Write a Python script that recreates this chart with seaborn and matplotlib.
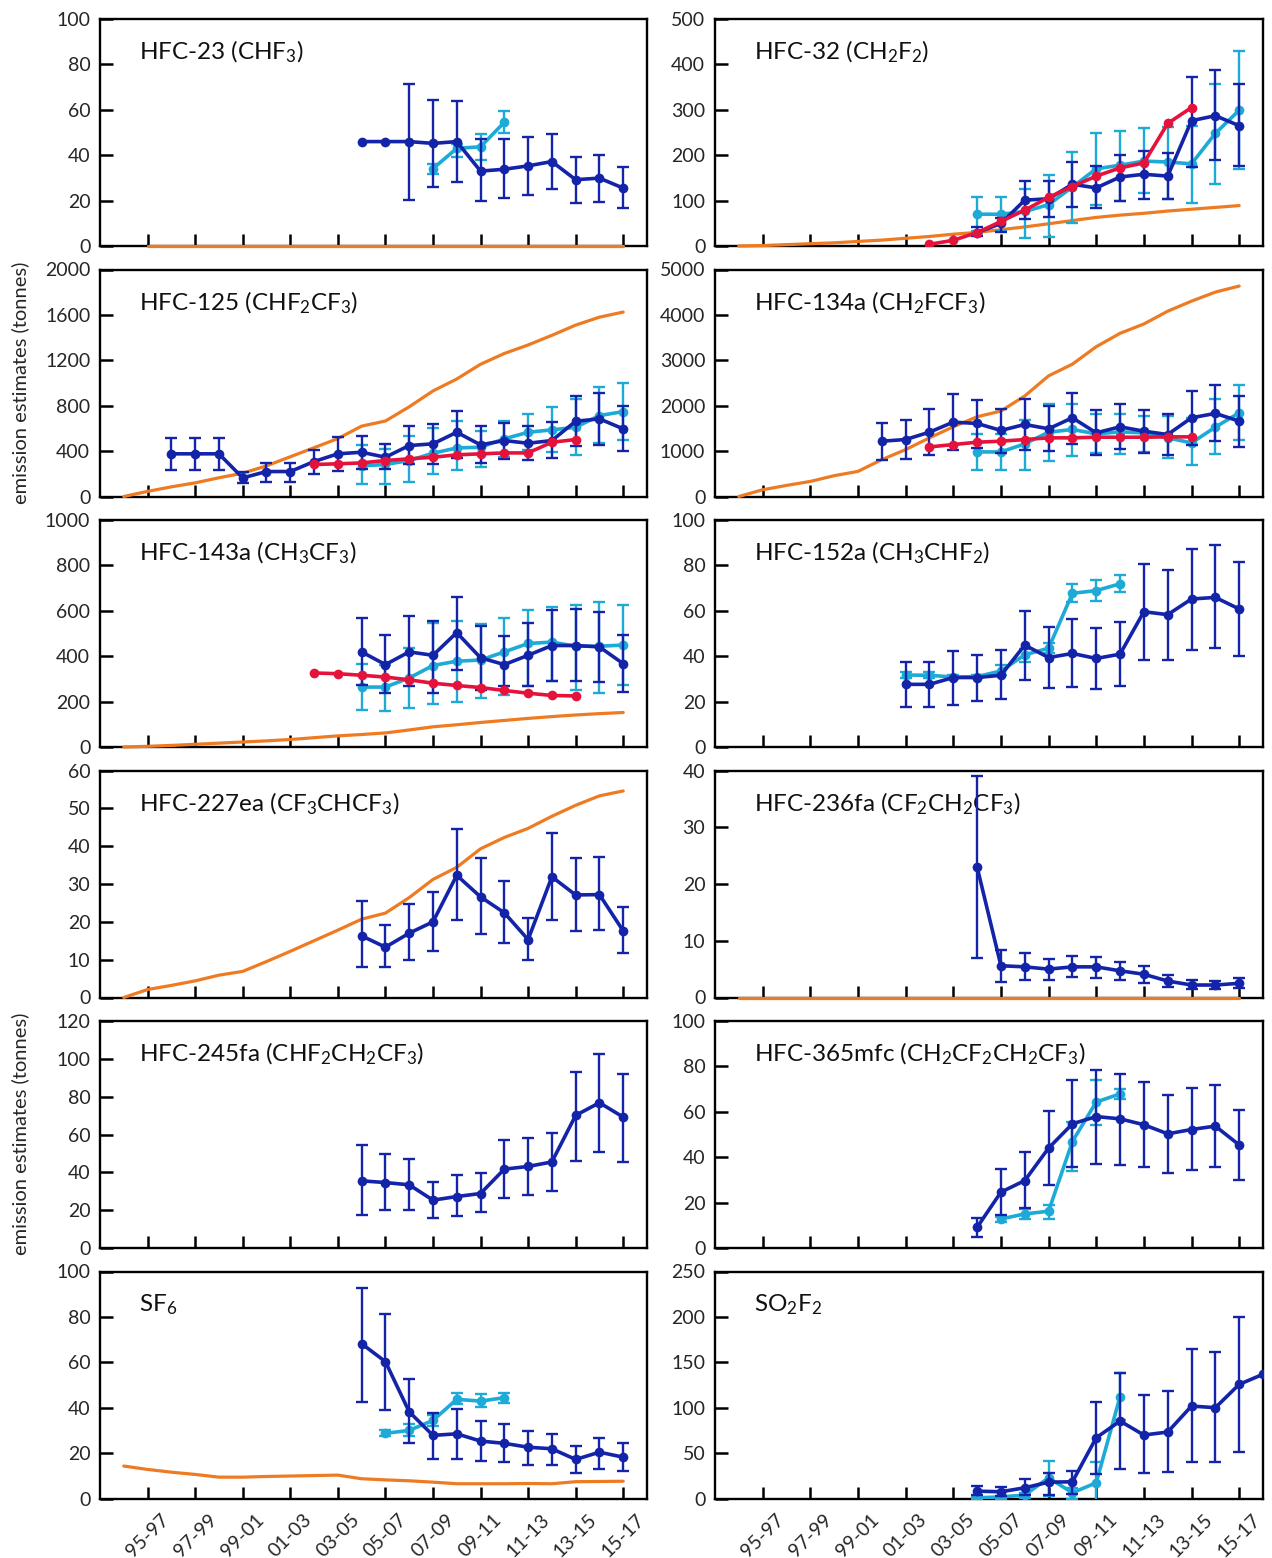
import numpy as np
import pandas as pd
import matplotlib
matplotlib.use("Agg")
import matplotlib.pyplot as plt
import seaborn as sns

sns.set_style("white")
plt.rcParams['font.family'] = ['Lato', 'DejaVu Sans']
plt.rcParams['mathtext.fontset'] = 'custom'
plt.rcParams['mathtext.rm'] = 'Lato'
plt.rcParams['mathtext.it'] = 'Lato:italic'
plt.rcParams['mathtext.bf'] = 'Lato:bold'

# ---------------- data ----------------
PERIODS = ["94-96", "95-97", "96-98", "97-99", "98-00", "99-01", "00-02", "01-03",
           "02-04", "03-05", "04-06", "05-07", "06-08", "07-09", "08-10", "09-11",
           "10-12", "11-13", "12-14", "13-15", "14-16", "15-17", "16-18"]
TICK_LABELS = ["95-97", "97-99", "99-01", "01-03", "03-05", "05-07",
               "07-09", "09-11", "11-13", "13-15", "15-17"]

NAN = np.nan

# HFC-23
hfc23_orange_start = "95-97"
hfc23_orange = [0, 0, 0, 0, 0, 0, 0, 0, 0, 0, 0, 0, 0, 0, 0, 0, 0, 0, 0, 0, 0]
hfc23_blue_start = "04-06"
hfc23_blue = [46, 46, 46, 45.2, 46, 33, 33.8, 35.3, 37.2, 29.2, 29.9, 25.5]
hfc23_blue_lo = [NAN, NAN, 20.3, 26.2, 28.1, 20, 21.2, 22.4, 24.9, 19.1, 19.6, 16.7]
hfc23_blue_hi = [NAN, NAN, 71.4, 64.4, 63.7, 47, 47.0, 48.1, 49.3, 39.4, 40.1, 34.6]
hfc23_cyan_start = "07-09"
hfc23_cyan = [34.1, 43.0, 43.7, 54.5]
hfc23_cyan_lo = [31.6, 39, 38.1, 49.6]
hfc23_cyan_hi = [36.3, 45, 49.2, 59.6]

# HFC-32
hfc32_orange_start = "94-96"
hfc32_orange = [0, 1, 3, 5, 7, 10, 13, 17, 21, 26, 30, 36, 42, 49, 56, 63, 68, 72, 77, 81, 85, 89]
hfc32_red_start = "02-04"
hfc32_red = [3.7, 12.6, 29.6, 54, 79, 107, 131, 154, 172, 183, 270, 305]
hfc32_blue_start = "04-06"
hfc32_blue = [29.6, 49.6, 101, 104, 136, 128, 152, 158, 154, 276, 287, 265]
hfc32_blue_lo = [22, 30, 59, 63, 87, 84, 100, 104, 103, 174, 190, 176]
hfc32_blue_hi = [42, 62, 144, 144, 185, 176, 201, 210, 205, 373, 387, 356]
hfc32_cyan_start = "04-06"
hfc32_cyan = [70, 70, 76, 91, 130, 170, 178, 187, 185, 181, 248, 299]
hfc32_cyan_lo = [33, 33, 17, 20, 50, 91, 100, 116, 104, 94, 137, 170]
hfc32_cyan_hi = [107, 107, 126, 157, 207, 250, 253, 259, 263, 264, 356, 430]

# HFC-125
hfc125_orange_start = "94-96"
hfc125_orange = [0, 45, 85, 120, 165, 205, 270, 350, 430, 510, 620, 665, 790, 930, 1035, 1165,
                 1260, 1335, 1420, 1510, 1580, 1625]
hfc125_blue_start = "96-98"
hfc125_blue = [376, 376, 376, 164, 220, 220, 308, 376, 390, 346, 449, 464, 566, 455, 493, 469,
               493, 663, 684, 596]
hfc125_blue_lo = [234, 234, 234, 120, 132, 132, 200, 229, 244, 244, 284, 288, 343, 298, 334, 319,
                  340, 443, 458, 402]
hfc125_blue_hi = [516, 516, 516, 216, 298, 298, 408, 526, 532, 460, 622, 638, 755, 622, 650, 622,
                  660, 885, 908, 800]
hfc125_red_start = "02-04"
hfc125_red = [282, 288, 296, 317, 332, 346, 367, 376, 384, 384, 478, 502]
hfc125_cyan_start = "04-06"
hfc125_cyan = [270, 282, 317, 381, 428, 434, 508, 566, 587, 610, 713, 748]
hfc125_cyan_lo = [112, 106, 132, 194, 235, 260, 349, 408, 393, 363, 472, 496]
hfc125_cyan_hi = [452, 422, 531, 605, 667, 578, 667, 731, 790, 855, 963, 1004]

# HFC-134a
hfc134a_orange_start = "94-96"
hfc134a_orange = [0, 148, 244, 332, 458, 553, 812, 1033, 1292, 1535, 1756, 1882, 2214, 2657, 2915,
                  3299, 3594, 3800, 4081, 4303, 4502, 4635]
hfc134a_blue_start = "00-02"
hfc134a_blue = [1218, 1255, 1417, 1638, 1609, 1454, 1587, 1491, 1734, 1402, 1535, 1439, 1365,
                1734, 1830, 1661]
hfc134a_blue_lo = [797, 834, 923, 1033, 1070, 959, 1033, 996, 1159, 923, 1055, 959, 923, 1144,
                   1218, 1100]
hfc134a_blue_hi = [1609, 1683, 1919, 2251, 2118, 1934, 2155, 1993, 2288, 1897, 2030, 1904, 1808,
                   2325, 2450, 2214]
hfc134a_red_start = "02-04"
hfc134a_red = [1092, 1144, 1196, 1218, 1255, 1292, 1292, 1306, 1306, 1306, 1314, 1314]
hfc134a_cyan_start = "04-06"
hfc134a_cyan = [982, 982, 1159, 1417, 1476, 1380, 1424, 1402, 1292, 1181, 1528, 1845]
hfc134a_cyan_lo = [590, 590, 590, 775, 886, 959, 937, 982, 849, 686, 937, 1240]
hfc134a_cyan_hi = [1380, 1380, 1675, 2044, 2044, 1808, 1808, 1771, 1771, 1734, 2140, 2458]

# HFC-143a
hfc143a_orange_start = "94-96"
hfc143a_orange = [0, 3, 7, 12, 17, 22, 27, 33, 41, 49, 55, 62, 75, 89, 98, 108, 117, 126, 134,
                  141, 147, 152]
hfc143a_red_start = "02-04"
hfc143a_red = [326, 323, 316, 308, 296, 281, 271, 262, 249, 237, 227, 225]
hfc143a_blue_start = "04-06"
hfc143a_blue = [419, 363, 419, 404, 504, 393, 363, 404, 447, 447, 441, 367]
hfc143a_blue_lo = [274, 237, 267, 237, 341, 252, 267, 267, 292, 292, 286, 241]
hfc143a_blue_hi = [567, 493, 578, 553, 662, 533, 489, 548, 603, 607, 593, 493]
hfc143a_cyan_start = "04-06"
hfc143a_cyan = [264, 264, 304, 359, 378, 383, 419, 456, 462, 444, 444, 449]
hfc143a_cyan_lo = [163, 160, 170, 188, 197, 218, 230, 267, 292, 252, 237, 271]
hfc143a_cyan_hi = [366, 363, 434, 548, 556, 544, 567, 603, 615, 625, 637, 627]

# HFC-152a
hfc152a_blue_start = "01-03"
hfc152a_blue = [27.6, 27.6, 30.6, 30.6, 31.6, 44.9, 39.4, 41.2, 39.0, 40.9, 59.6, 58.3, 65.2,
                65.9, 60.8]
hfc152a_blue_lo = [17.7, 17.7, 18.7, 20.2, 21.0, 29.4, 25.8, 26.6, 25.4, 26.9, 38.2, 38.2, 42.7,
                   43.8, 40.1]
hfc152a_blue_hi = [37.5, 37.5, 42.1, 40.6, 42.7, 60.1, 53.0, 56.4, 52.4, 55.2, 80.7, 78.1, 87.4,
                   89.2, 81.5]
hfc152a_cyan_start = "01-03"
hfc152a_cyan = [31.7, 31.6, 30.8, 31.0, 33.5, 40.6, 43.5, 67.7, 68.9, 71.9]
hfc152a_cyan_lo = [30.5, 30.2, 29.8, 30.2, 31.5, 37.5, 41.6, 63.8, 64.2, 68.2]
hfc152a_cyan_hi = [33.0, 33.0, 31.6, 31.8, 36.0, 43.0, 45.6, 71.6, 73.7, 75.9]

# HFC-227ea
hfc227ea_orange_start = "94-96"
hfc227ea_orange = [0, 2.1, 3.2, 4.4, 5.9, 6.9, 9.5, 12.2, 15.0, 17.8, 20.7, 22.3, 26.4, 31.2,
                   34.4, 39.3, 42.3, 44.7, 47.9, 50.8, 53.3, 54.6]
hfc227ea_blue_start = "04-06"
hfc227ea_blue = [16.3, 13.3, 17.0, 20.0, 32.3, 26.6, 22.4, 15.3, 31.9, 27.1, 27.2, 17.6]
hfc227ea_blue_lo = [8.1, 8.1, 9.9, 12.3, 20.4, 16.8, 14.3, 10.0, 20.5, 17.6, 17.8, 11.7]
hfc227ea_blue_hi = [25.5, 19.2, 24.6, 28.0, 44.5, 36.8, 30.9, 20.9, 43.5, 36.9, 37.2, 23.9]

# HFC-236fa
hfc236fa_orange_start = "94-96"
hfc236fa_orange = [0, 0, 0, 0, 0, 0, 0, 0, 0, 0, 0, 0, 0, 0, 0, 0, 0, 0, 0, 0, 0, 0]
hfc236fa_blue_start = "04-06"
hfc236fa_blue = [23.0, 5.6, 5.4, 5.0, 5.4, 5.4, 4.7, 4.1, 2.9, 2.2, 2.2, 2.5]
hfc236fa_blue_lo = [6.9, 2.8, 3.0, 3.1, 3.6, 3.4, 3.1, 2.6, 1.9, 1.5, 1.5, 1.6]
hfc236fa_blue_hi = [39.1, 8.4, 7.8, 6.8, 7.3, 7.1, 6.3, 5.5, 3.9, 3.0, 2.9, 3.4]

# HFC-245fa
hfc245fa_blue_start = "04-06"
hfc245fa_blue = [35.5, 34.6, 33.4, 25.3, 27.2, 28.8, 41.7, 43.1, 45.5, 70.1, 76.8, 69.2]
hfc245fa_blue_lo = [17.6, 20.0, 20.0, 15.6, 16.7, 18.8, 26.4, 27.9, 30.2, 46.0, 50.8, 45.7]
hfc245fa_blue_hi = [54.5, 49.6, 47.3, 35.0, 38.7, 39.9, 56.9, 58.3, 61.0, 93.0, 102.3, 92.1]

# HFC-365mfc
hfc365mfc_blue_start = "04-06"
hfc365mfc_blue = [9.1, 24.6, 29.7, 44.0, 54.7, 57.9, 56.9, 54.3, 50.3, 52.2, 53.7, 45.4]
hfc365mfc_blue_lo = [5.0, 14.7, 17.6, 27.8, 35.9, 37.1, 36.6, 35.6, 33.1, 34.4, 35.6, 30.1]
hfc365mfc_blue_hi = [13.2, 34.9, 42.2, 60.3, 73.8, 78.2, 76.8, 73.1, 67.2, 70.4, 71.9, 60.9]
hfc365mfc_cyan_start = "05-07"
hfc365mfc_cyan = [12.8, 15.0, 16.2, 46.9, 64.3, 67.9]
hfc365mfc_cyan_lo = [11.3, 12.8, 12.8, 33.8, 54.0, 65.7]
hfc365mfc_cyan_hi = [13.8, 17.2, 19.1, 55.4, 73.8, 70.1]

# SF6
sf6_orange_start = "94-96"
sf6_orange = [14.3, 12.8, 11.6, 10.6, 9.4, 9.4, 9.7, 9.9, 10.1, 10.3, 8.7, 8.2, 7.8, 7.2, 6.5,
              6.5, 6.5, 6.6, 6.5, 7.4, 7.5, 7.6]
sf6_blue_start = "04-06"
sf6_blue = [68.2, 60.3, 38.2, 27.8, 28.5, 25.3, 24.3, 22.6, 21.9, 17.2, 20.4, 18.2]
sf6_blue_lo = [42.6, 38.8, 24.6, 17.6, 17.6, 16.5, 16.0, 14.7, 14.7, 11.3, 13.2, 12.1]
sf6_blue_hi = [92.9, 81.2, 52.5, 37.5, 39.6, 34.1, 32.6, 29.7, 28.5, 23.1, 26.8, 24.3]
sf6_cyan_start = "05-07"
sf6_cyan = [28.7, 30.0, 34.4, 43.7, 42.9, 44.4]
sf6_cyan_lo = [27.5, 27.5, 31.9, 41.5, 40.4, 41.9]
sf6_cyan_hi = [30.0, 32.9, 36.8, 46.6, 45.9, 46.6]

# SO2F2
so2f2_blue_start = "04-06"
so2f2_blue = [8.1, 7.4, 11.8, 18.0, 18.4, 66.9, 85.3, 69.9, 73.2, 101.8, 100.0, 125.7, 136.8]
so2f2_blue_lo = [3.7, 3.3, 4.4, 4.4, 5.1, 26.5, 32.7, 27.6, 29.4, 40.4, 40.4, 51.1, NAN]
so2f2_blue_hi = [14.3, 12.5, 21.0, 28.3, 30.1, 106.6, 137.9, 114.0, 118.4, 164.3, 161.4, 200.4, NAN]
so2f2_cyan_start = "04-06"
so2f2_cyan = [0.7, 1.8, 3.7, 22.8, 6.3, 17.3, 112.1]
so2f2_cyan_lo = [0.0, 0.0, 0.5, 2.6, 0.0, -5.9, 86.0]
so2f2_cyan_hi = [2.0, 3.0, 6.0, 41.2, 12.0, 40.1, 138.0]

# ---------------- styling ----------------
C_BLUE = "#1424a8"
C_CYAN = "#1eaad6"
C_RED = "#e5133c"
C_ORANGE = "#ee7b22"

W, H = 1272, 1558
fig = plt.figure(figsize=(W / 100, H / 100), dpi=100)

COL_X = [100, 715]
COL_W = [547, 548]
ROW_TOP = [19, 269.5, 520, 770.5, 1021, 1271.5]
PANEL_H = 227


def make_ax(row, col):
    left = COL_X[col] / W
    bottom = 1 - (ROW_TOP[row] + PANEL_H) / H
    return fig.add_axes([left, bottom, COL_W[col] / W, PANEL_H / H])


def series_df(start, vals, lo=None, hi=None):
    i0 = PERIODS.index(start)
    x = np.arange(i0, i0 + len(vals))
    d = {"x": x, "y": np.asarray(vals, float)}
    if lo is not None:
        d["lo"] = np.asarray(lo, float)
        d["hi"] = np.asarray(hi, float)
    return pd.DataFrame(d)


def draw_series(ax, start, vals, color, z, lo=None, hi=None, marker=True, lw=2.6):
    df = series_df(start, vals, lo, hi)
    if lo is not None:
        m = df["lo"].notna() & df["hi"].notna()
        sub = df[m]
        ax.errorbar(sub["x"], sub["y"], yerr=[sub["y"] - sub["lo"], sub["hi"] - sub["y"]],
                    fmt="none", ecolor=color, elinewidth=1.7, capsize=4.2, capthick=1.7,
                    zorder=z)
    if marker:
        sns.lineplot(data=df, x="x", y="y", ax=ax, color=color, linewidth=lw, marker="o",
                     markersize=7, markeredgewidth=0, errorbar=None, legend=False,
                     zorder=z + 0.5, sort=True)
    else:
        sns.lineplot(data=df, x="x", y="y", ax=ax, color=color, linewidth=2.3,
                     errorbar=None, legend=False, zorder=z, sort=True, clip_on=False)


def style_ax(ax, ymax, ystep, title, show_x):
    ax.set_xlim(-1, 22)
    ax.set_ylim(0, ymax)
    ax.set_yticks(np.arange(0, ymax + ystep / 2, ystep))
    ax.set_yticklabels([f"{int(v)}" for v in np.arange(0, ymax + ystep / 2, ystep)])
    ax.set_xticks([PERIODS.index(t) for t in TICK_LABELS])
    if show_x:
        ax.set_xticklabels(TICK_LABELS, rotation=45, fontsize=14)
    else:
        ax.set_xticklabels([])
    ax.tick_params(axis="both", which="major", direction="in", length=9, width=1.8,
                   color="black", labelsize=14, pad=7, bottom=True, left=True,
                   top=False, right=False)
    ax.tick_params(axis="x", pad=9)
    for s in ax.spines.values():
        s.set_linewidth(1.7)
        s.set_color("black")
        s.set_zorder(2.5)
    ax.set_xlabel("")
    ax.set_ylabel("")
    ax.text(0.072, 0.855, title, transform=ax.transAxes, fontsize=17.5, va="center",
            ha="left", color="#111111")


ZO = 2.6   # orange above spines so zero-lines stay visible

# Panel 1: HFC-23
ax = make_ax(0, 0)
draw_series(ax, hfc23_orange_start, hfc23_orange, C_ORANGE, ZO, marker=False)
draw_series(ax, hfc23_cyan_start, hfc23_cyan, C_CYAN, 3, hfc23_cyan_lo, hfc23_cyan_hi)
draw_series(ax, hfc23_blue_start, hfc23_blue, C_BLUE, 4, hfc23_blue_lo, hfc23_blue_hi)
style_ax(ax, 100, 20, "HFC-23 (CHF$_3$)", False)

# Panel 2: HFC-32
ax = make_ax(0, 1)
draw_series(ax, hfc32_orange_start, hfc32_orange, C_ORANGE, ZO, marker=False)
draw_series(ax, hfc32_cyan_start, hfc32_cyan, C_CYAN, 3, hfc32_cyan_lo, hfc32_cyan_hi)
draw_series(ax, hfc32_blue_start, hfc32_blue, C_BLUE, 4, hfc32_blue_lo, hfc32_blue_hi)
draw_series(ax, hfc32_red_start, hfc32_red, C_RED, 5)
style_ax(ax, 500, 100, "HFC-32 (CH$_2$F$_2$)", False)

# Panel 3: HFC-125
ax = make_ax(1, 0)
draw_series(ax, hfc125_orange_start, hfc125_orange, C_ORANGE, ZO, marker=False)
draw_series(ax, hfc125_cyan_start, hfc125_cyan, C_CYAN, 3, hfc125_cyan_lo, hfc125_cyan_hi)
draw_series(ax, hfc125_blue_start, hfc125_blue, C_BLUE, 4, hfc125_blue_lo, hfc125_blue_hi)
draw_series(ax, hfc125_red_start, hfc125_red, C_RED, 5)
style_ax(ax, 2000, 400, "HFC-125 (CHF$_2$CF$_3$)", False)

# Panel 4: HFC-134a
ax = make_ax(1, 1)
draw_series(ax, hfc134a_orange_start, hfc134a_orange, C_ORANGE, ZO, marker=False)
draw_series(ax, hfc134a_cyan_start, hfc134a_cyan, C_CYAN, 3, hfc134a_cyan_lo, hfc134a_cyan_hi)
draw_series(ax, hfc134a_blue_start, hfc134a_blue, C_BLUE, 4, hfc134a_blue_lo, hfc134a_blue_hi)
draw_series(ax, hfc134a_red_start, hfc134a_red, C_RED, 5)
style_ax(ax, 5000, 1000, "HFC-134a (CH$_2$FCF$_3$)", False)

# Panel 5: HFC-143a
ax = make_ax(2, 0)
draw_series(ax, hfc143a_orange_start, hfc143a_orange, C_ORANGE, ZO, marker=False)
draw_series(ax, hfc143a_cyan_start, hfc143a_cyan, C_CYAN, 3, hfc143a_cyan_lo, hfc143a_cyan_hi)
draw_series(ax, hfc143a_blue_start, hfc143a_blue, C_BLUE, 4, hfc143a_blue_lo, hfc143a_blue_hi)
draw_series(ax, hfc143a_red_start, hfc143a_red, C_RED, 5)
style_ax(ax, 1000, 200, "HFC-143a (CH$_3$CF$_3$)", False)

# Panel 6: HFC-152a
ax = make_ax(2, 1)
draw_series(ax, hfc152a_cyan_start, hfc152a_cyan, C_CYAN, 3, hfc152a_cyan_lo, hfc152a_cyan_hi)
draw_series(ax, hfc152a_blue_start, hfc152a_blue, C_BLUE, 4, hfc152a_blue_lo, hfc152a_blue_hi)
style_ax(ax, 100, 20, "HFC-152a (CH$_3$CHF$_2$)", False)

# Panel 7: HFC-227ea
ax = make_ax(3, 0)
draw_series(ax, hfc227ea_orange_start, hfc227ea_orange, C_ORANGE, ZO, marker=False)
draw_series(ax, hfc227ea_blue_start, hfc227ea_blue, C_BLUE, 4, hfc227ea_blue_lo, hfc227ea_blue_hi)
style_ax(ax, 60, 10, "HFC-227ea (CF$_3$CHCF$_3$)", False)

# Panel 8: HFC-236fa
ax = make_ax(3, 1)
draw_series(ax, hfc236fa_orange_start, hfc236fa_orange, C_ORANGE, ZO, marker=False)
draw_series(ax, hfc236fa_blue_start, hfc236fa_blue, C_BLUE, 4, hfc236fa_blue_lo, hfc236fa_blue_hi)
style_ax(ax, 40, 10, "HFC-236fa (CF$_2$CH$_2$CF$_3$)", False)

# Panel 9: HFC-245fa
ax = make_ax(4, 0)
draw_series(ax, hfc245fa_blue_start, hfc245fa_blue, C_BLUE, 4, hfc245fa_blue_lo, hfc245fa_blue_hi)
style_ax(ax, 120, 20, "HFC-245fa (CHF$_2$CH$_2$CF$_3$)", False)

# Panel 10: HFC-365mfc
ax = make_ax(4, 1)
draw_series(ax, hfc365mfc_cyan_start, hfc365mfc_cyan, C_CYAN, 3, hfc365mfc_cyan_lo, hfc365mfc_cyan_hi)
draw_series(ax, hfc365mfc_blue_start, hfc365mfc_blue, C_BLUE, 4, hfc365mfc_blue_lo, hfc365mfc_blue_hi)
style_ax(ax, 100, 20, "HFC-365mfc (CH$_2$CF$_2$CH$_2$CF$_3$)", False)

# Panel 11: SF6
ax = make_ax(5, 0)
draw_series(ax, sf6_orange_start, sf6_orange, C_ORANGE, ZO, marker=False)
draw_series(ax, sf6_cyan_start, sf6_cyan, C_CYAN, 3, sf6_cyan_lo, sf6_cyan_hi)
draw_series(ax, sf6_blue_start, sf6_blue, C_BLUE, 4, sf6_blue_lo, sf6_blue_hi)
style_ax(ax, 100, 20, "SF$_6$", True)

# Panel 12: SO2F2
ax = make_ax(5, 1)
draw_series(ax, so2f2_cyan_start, so2f2_cyan, C_CYAN, 3, so2f2_cyan_lo, so2f2_cyan_hi)
draw_series(ax, so2f2_blue_start, so2f2_blue, C_BLUE, 4, so2f2_blue_lo, so2f2_blue_hi)
style_ax(ax, 250, 50, "SO$_2$F$_2$", True)

# y-axis labels
for yc in [383, 1134]:
    fig.text(20 / W, 1 - yc / H, "emission estimates (tonnes)", rotation=90,
             ha="center", va="center", fontsize=14.5)

fig.savefig("out.png", dpi=100)
